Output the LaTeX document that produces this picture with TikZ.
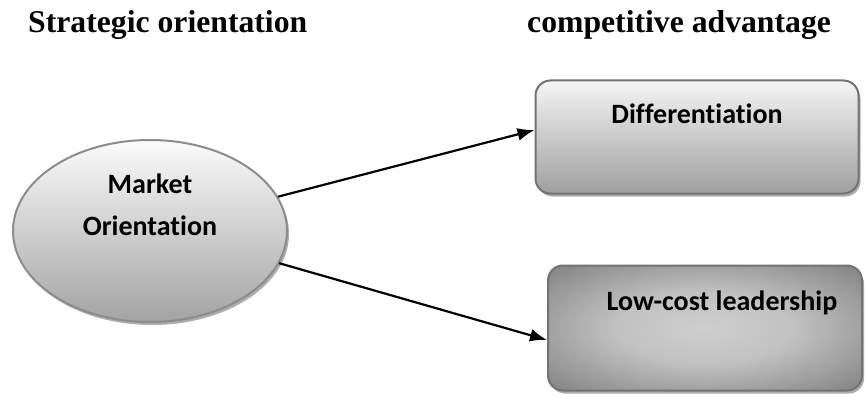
\documentclass[tikz,border=0pt]{standalone}
\usepackage{fontspec}
\setmainfont{Liberation Serif}
\newfontfamily\calibri[Ligatures={NoCommon,NoRequired}]{Carlito}
\usetikzlibrary{shapes.geometric,arrows.meta,shadows}
\pgfdeclareradialshading{lowcostshade}{\pgfpoint{0bp}{0bp}}{%
  color(0bp)=(black!19); color(14bp)=(black!24); color(32bp)=(black!45);
  color(48bp)=(black!62); color(100bp)=(black!66)}

\begin{document}
\begin{tikzpicture}[x=1pt,y=-1pt,
    heading/.style={font=\bfseries\fontsize{31.7}{36}\selectfont,anchor=base west,inner sep=0pt},
    boxtext/.style={font=\calibri\bfseries\fontsize{28}{42}\selectfont,align=center,inner sep=0pt},
    shadowed/.style={drop shadow={shadow xshift=2pt,shadow yshift=-3pt,fill=black!40,opacity=.8}},
    framed/.style={draw=black!55,line width=2pt,shadowed},
    link/.style={-{Latex[length=17pt,width=13pt]},line width=2.2pt}]
  \useasboundingbox (0,0) rectangle (865,396);
  % column headings
  \node[heading] (SO) at (28,33) {Strategic orientation};
  \node[heading] (CA) at (527,33) {competitive advantage};
  % left ellipse
  \node[shape=ellipse,framed,draw=black!45,top color=gray!3,bottom color=gray!72,
        minimum width=274pt,minimum height=182pt] (M) at (150,231) {};
  \node[boxtext] (Mtxt) at (150,205) {Market\\Orientation};
  % right boxes
  \node[rectangle,rounded corners=15pt,framed,top color=gray!8,bottom color=gray!75,
        minimum width=323pt,minimum height=113pt] (D) at (697,137) {};
  \node[boxtext,anchor=base] (Dtxt) at (697,123) {Differentiation};
  \node[rectangle,rounded corners=15pt,framed,shading=lowcostshade,
        minimum width=314pt,minimum height=125pt] (L) at (705,328) {};
  \node[boxtext,anchor=base] (Ltxt) at (722,310) {Low-cost leadership};
  % arrows
  \draw[link] (M.15) -- ([yshift=7pt]D.west);
  \draw[link] (M.-14) -- ([yshift=-12pt]L.west);
\end{tikzpicture}
\end{document}
